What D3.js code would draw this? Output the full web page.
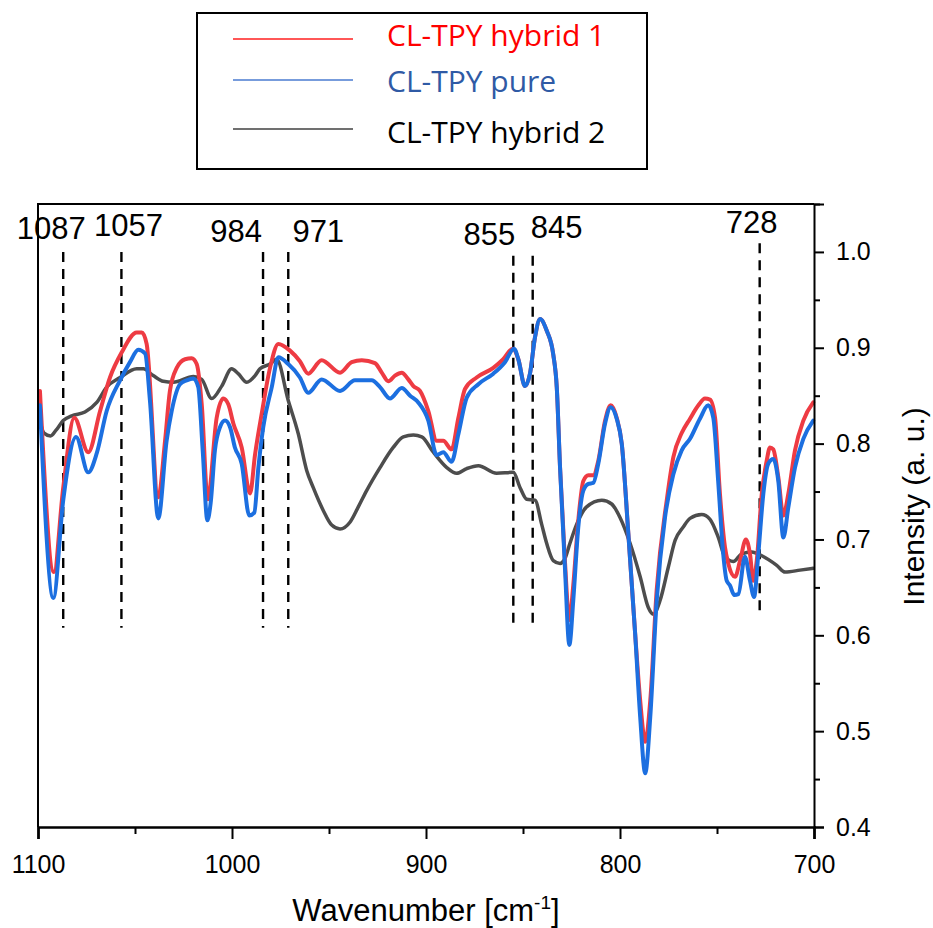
<!DOCTYPE html>
<html>
<head>
<meta charset="utf-8">
<script src="https://cdn.jsdelivr.net/npm/d3@7"></script>
<style>
  body { margin: 0; background: #fff; }
  text { font-family: "Liberation Sans", Arial, sans-serif; fill: #000; }
</style>
</head>
<body>
<svg id="svg"></svg>
<script>
// series names and data
const seriesNames = ["CL-TPY hybrid 1", "CL-TPY pure", "CL-TPY hybrid 2"];

// [wavenumber, intensity]
const hybrid1 = [
  [1099.0, 0.855], [1091.8, 0.666], [1087.0, 0.754], [1081.3, 0.827], [1074.1, 0.791],
  [1068.0, 0.834], [1062.9, 0.869], [1056.9, 0.895], [1049.1, 0.916], [1046.5, 0.916],
  [1044.0, 0.904], [1038.0, 0.744], [1034.5, 0.803], [1032.0, 0.855], [1028.5, 0.879],
  [1024.2, 0.888], [1020.8, 0.889], [1018.2, 0.883], [1015.6, 0.841], [1012.5, 0.742],
  [1007.9, 0.827], [1004.5, 0.847], [1001.9, 0.841], [999.3, 0.821], [995.0, 0.796],
  [990.7, 0.748], [988.1, 0.789], [984.7, 0.831], [980.4, 0.879], [976.1, 0.904],
  [970.1, 0.897], [965.0, 0.886], [960.7, 0.873], [953.8, 0.887], [944.3, 0.874],
  [938.3, 0.885], [933.1, 0.887], [926.3, 0.884], [922.8, 0.874], [919.4, 0.865],
  [916.0, 0.871], [912.5, 0.874], [909.1, 0.867], [906.5, 0.860], [903.1, 0.855],
  [898.8, 0.834], [894.5, 0.803], [891.1, 0.803], [886.8, 0.794], [883.3, 0.827],
  [879.9, 0.857], [873.9, 0.869], [865.3, 0.879], [860.2, 0.888], [855.3, 0.899],
  [852.4, 0.888], [849.0, 0.860], [846.4, 0.873], [843.8, 0.911], [841.2, 0.930],
  [837.8, 0.918], [834.4, 0.893], [832.6, 0.859], [830.9, 0.775], [828.4, 0.678],
  [826.1, 0.616], [824.1, 0.652], [821.5, 0.720], [818.9, 0.761], [816.3, 0.767],
  [813.8, 0.767], [811.2, 0.782], [807.7, 0.824], [804.8, 0.840], [801.7, 0.827],
  [799.1, 0.800], [795.7, 0.706], [792.2, 0.602], [789.6, 0.532], [787.0, 0.489],
  [784.4, 0.532], [781.1, 0.647], [775.9, 0.741], [772.5, 0.786], [768.2, 0.811],
  [763.9, 0.826], [759.6, 0.840], [756.2, 0.847], [753.6, 0.846], [751.0, 0.827],
  [748.5, 0.748], [745.9, 0.692], [744.2, 0.675], [740.7, 0.661], [738.1, 0.678],
  [735.1, 0.700], [733.0, 0.685], [731.3, 0.657], [729.5, 0.678], [726.9, 0.748],
  [724.4, 0.782], [722.7, 0.796], [721.0, 0.794], [718.4, 0.765], [715.8, 0.725],
  [713.2, 0.748], [709.8, 0.793], [705.5, 0.824], [700.4, 0.843]
];

const pure = [
  [1099.0, 0.840], [1092.1, 0.639], [1087.0, 0.741], [1080.4, 0.807], [1074.1, 0.770],
  [1069.7, 0.790], [1064.6, 0.834], [1057.7, 0.866], [1052.6, 0.885], [1048.3, 0.898],
  [1044.8, 0.894], [1042.3, 0.845], [1038.0, 0.722], [1033.7, 0.803], [1031.1, 0.834],
  [1026.8, 0.862], [1023.4, 0.866], [1019.9, 0.868], [1017.4, 0.859], [1015.1, 0.793],
  [1012.7, 0.720], [1011.0, 0.738], [1008.8, 0.793], [1006.2, 0.817], [1003.6, 0.824],
  [1001.0, 0.817], [998.5, 0.796], [995.0, 0.779], [991.1, 0.725], [988.5, 0.728],
  [986.4, 0.775], [983.9, 0.817], [979.5, 0.859], [976.1, 0.890], [971.0, 0.883],
  [965.0, 0.869], [960.7, 0.853], [953.8, 0.867], [944.3, 0.855], [936.6, 0.866],
  [928.0, 0.866], [923.7, 0.859], [918.6, 0.847], [912.5, 0.858], [908.2, 0.850],
  [904.0, 0.843], [898.8, 0.824], [894.5, 0.788], [891.1, 0.791], [886.8, 0.781],
  [883.3, 0.810], [879.0, 0.848], [873.0, 0.862], [865.3, 0.873], [859.3, 0.885],
  [854.6, 0.899], [852.4, 0.888], [849.0, 0.860], [846.4, 0.873], [843.8, 0.911],
  [841.2, 0.930], [837.8, 0.918], [834.4, 0.893], [832.6, 0.859], [830.9, 0.775],
  [828.4, 0.671], [826.1, 0.590], [824.1, 0.636], [821.5, 0.713], [818.9, 0.751],
  [816.3, 0.758], [813.8, 0.759], [811.2, 0.779], [807.7, 0.821], [804.8, 0.838],
  [801.7, 0.826], [799.1, 0.800], [795.7, 0.706], [792.2, 0.602], [789.6, 0.515],
  [787.0, 0.456], [784.4, 0.515], [781.1, 0.636], [776.8, 0.723], [772.5, 0.768],
  [768.2, 0.793], [763.9, 0.805], [758.8, 0.826], [754.5, 0.840], [751.9, 0.827],
  [749.3, 0.758], [746.8, 0.685], [745.0, 0.657], [743.3, 0.652], [741.1, 0.642],
  [739.0, 0.643], [735.6, 0.682], [733.0, 0.657], [730.9, 0.640], [728.7, 0.685],
  [726.1, 0.748], [723.6, 0.779], [721.0, 0.784], [718.4, 0.761], [715.8, 0.702],
  [713.2, 0.734], [709.8, 0.775], [705.5, 0.805], [700.4, 0.824]
];

const hybrid2 = [
  [1099.0, 0.824], [1096.9, 0.811], [1093.5, 0.808], [1090.7, 0.814], [1087.0, 0.824],
  [1082.6, 0.829], [1075.8, 0.833], [1069.7, 0.843], [1064.6, 0.859], [1057.7, 0.869],
  [1049.1, 0.878], [1045.7, 0.878], [1040.6, 0.871], [1035.4, 0.865], [1030.3, 0.864],
  [1019.9, 0.870], [1015.6, 0.867], [1010.5, 0.847], [1005.3, 0.860], [1000.2, 0.878],
  [996.8, 0.873], [992.4, 0.864], [988.1, 0.871], [985.6, 0.878], [980.4, 0.883],
  [977.0, 0.888], [971.0, 0.845], [965.8, 0.810], [961.5, 0.772], [958.1, 0.754],
  [952.9, 0.730], [948.6, 0.715], [944.3, 0.711], [939.2, 0.718], [934.9, 0.734],
  [930.6, 0.751], [923.7, 0.775], [916.9, 0.796], [911.7, 0.807], [906.5, 0.809],
  [902.2, 0.807], [896.2, 0.791], [889.3, 0.775], [884.2, 0.769], [879.0, 0.774],
  [873.0, 0.777], [863.6, 0.769], [855.0, 0.770], [851.5, 0.754], [848.1, 0.742],
  [843.8, 0.741], [840.4, 0.716], [837.8, 0.696], [834.4, 0.678], [830.9, 0.675],
  [828.4, 0.680], [825.8, 0.696], [822.3, 0.716], [817.2, 0.734], [809.4, 0.741],
  [804.3, 0.737], [800.0, 0.723], [794.8, 0.696], [789.6, 0.661], [785.4, 0.629],
  [782.8, 0.622], [779.4, 0.636], [775.1, 0.671], [771.6, 0.699], [767.4, 0.713],
  [763.9, 0.722], [757.9, 0.726], [753.6, 0.721], [749.3, 0.702], [745.9, 0.682],
  [741.6, 0.677], [737.3, 0.685], [732.1, 0.687], [726.9, 0.683], [719.2, 0.673],
  [714.9, 0.666], [707.2, 0.668], [700.4, 0.670]
];

// marked peaks
const peakWn = [1087, 1057, 984, 971, 855, 845, 728];
const peakTop = [1.0, 1.0, 1.0, 1.0, 0.996, 0.996, 1.009];
const peakBottom = [0.608, 0.608, 0.608, 0.608, 0.607, 0.607, 0.619];

const xTicks = [1100, 1000, 900, 800, 700];
const xMinorTicks = [1050, 950, 850, 750];
const yTicks = [0.4, 0.5, 0.6, 0.7, 0.8, 0.9, 1.0];
const yMinorTicks = [0.45, 0.55, 0.65, 0.75, 0.85, 0.95, 1.05];

// ---- layout ----
const width = 933, height = 928;
const plotLeft = 38, plotRight = 814, plotTop = 204, plotBottom = 827;

const svg = d3.select("#svg").attr("width", width).attr("height", height);

const x = d3.scaleLinear().domain([1100, 700]).range([plotLeft, plotRight]);
const y = d3.scaleLinear().domain([0.4, 1.05]).range([plotBottom, plotTop]);

const lineColors = ["#ee3b43", "#1c6fe0", "#4d4d4d"];
const lineWidths = [4, 4, 3.5];
const legendLineColors = ["#ff1f1f", "#4a7bd0", "#404040"];
const legendTextColors = ["#ff0000", "#2f5aa5", "#000000"];

// dashed peak markers
const peakOffsets = [[-12, 239], [7, 236], [-27, 242], [30, 242], [-24, 245], [24, 238], [-8, 233]];

svg.append("g").selectAll("line")
  .data(peakWn)
  .enter()
  .append("line")
  .attr("x1", d => x(d))
  .attr("x2", d => x(d))
  .attr("y1", (d, i) => y(peakTop[i]))
  .attr("y2", (d, i) => y(peakBottom[i]))
  .attr("stroke", "#000")
  .attr("stroke-width", 2.4)
  .attr("stroke-dasharray", "10,7");

svg.append("g").selectAll("text")
  .data(peakWn)
  .enter()
  .append("text")
  .attr("x", (d, i) => x(d) + peakOffsets[i][0])
  .attr("y", (d, i) => peakOffsets[i][1])
  .attr("text-anchor", "middle")
  .attr("font-size", 31)
  .text(d => d);

// spectra
const line = d3.line()
  .x(d => x(d[0]))
  .y(d => y(d[1]))
  .curve(d3.curveMonotoneX);

const drawOrder = [2, 0, 1];
const allSeries = [hybrid1, pure, hybrid2];
drawOrder.forEach(i => {
  svg.append("path")
    .datum(allSeries[i])
    .attr("d", line)
    .attr("fill", "none")
    .attr("stroke", lineColors[i])
    .attr("stroke-width", lineWidths[i])
    .attr("stroke-linejoin", "round")
    .attr("stroke-linecap", "round");
});

// frame: top and left
svg.append("path")
  .attr("d", `M${plotLeft},${plotBottom}V${plotTop}H${plotRight}`)
  .attr("fill", "none")
  .attr("stroke", "#000")
  .attr("stroke-width", 2);

// x axis
const xAxis = svg.append("g")
  .attr("transform", `translate(0,${plotBottom})`)
  .call(d3.axisBottom(x).tickValues(xTicks).tickSize(12).tickPadding(16).tickFormat(d3.format("d")));
xAxis.select(".domain").attr("stroke-width", 2.6);
xAxis.selectAll(".tick line").attr("stroke-width", 2);
xAxis.selectAll("text").attr("font-size", 25);

svg.append("g")
  .attr("transform", `translate(0,${plotBottom})`)
  .call(d3.axisBottom(x).tickValues(xMinorTicks).tickSize(7).tickFormat(""))
  .call(g => g.select(".domain").remove())
  .selectAll(".tick line").attr("stroke-width", 2);

// y axis on the right
const yAxis = svg.append("g")
  .attr("transform", `translate(${plotRight},0)`)
  .call(d3.axisRight(y).tickValues(yTicks).tickSize(10).tickPadding(12).tickFormat(d3.format(".1f")));
yAxis.select(".domain").attr("stroke-width", 2);
yAxis.selectAll(".tick line").attr("stroke-width", 2);
yAxis.selectAll("text").attr("font-size", 25);

svg.append("g")
  .attr("transform", `translate(${plotRight},0)`)
  .call(d3.axisRight(y).tickValues(yMinorTicks).tickSize(6).tickFormat(""))
  .call(g => g.select(".domain").remove())
  .selectAll(".tick line").attr("stroke-width", 2);

// axis titles
const xTitle = svg.append("text")
  .attr("x", (plotLeft + plotRight) / 2)
  .attr("y", 921)
  .attr("text-anchor", "middle")
  .attr("font-size", 31);
xTitle.append("tspan").text("Wavenumber [cm");
xTitle.append("tspan").attr("font-size", 19).attr("dy", -12).text("-1");
xTitle.append("tspan").attr("dy", 12).text("]");

svg.append("text")
  .attr("transform", `translate(924,${(y(0.4) + y(1.05)) / 2 - 9}) rotate(-90)`)
  .attr("text-anchor", "middle")
  .attr("font-size", 30)
  .text("Intensity (a. u.)");

// legend
const legend = svg.append("g");
legend.append("rect")
  .attr("x", 197).attr("y", 13)
  .attr("width", 450).attr("height", 156)
  .attr("fill", "#fff")
  .attr("stroke", "#000")
  .attr("stroke-width", 2);

const legendLineY = [39, 80, 129];
const legendTextY = [46, 92, 143];

seriesNames.forEach((name, i) => {
  legend.append("line")
    .attr("x1", 233).attr("x2", 353)
    .attr("y1", legendLineY[i]).attr("y2", legendLineY[i])
    .attr("stroke", legendLineColors[i])
    .attr("stroke-width", 1.5);
  legend.append("text")
    .attr("x", 387)
    .attr("y", legendTextY[i])
    .attr("font-size", 30)
    .style("font-family", "'Open Sans', sans-serif")
    .style("fill", legendTextColors[i])
    .text(name);
});
</script>
</body>
</html>
